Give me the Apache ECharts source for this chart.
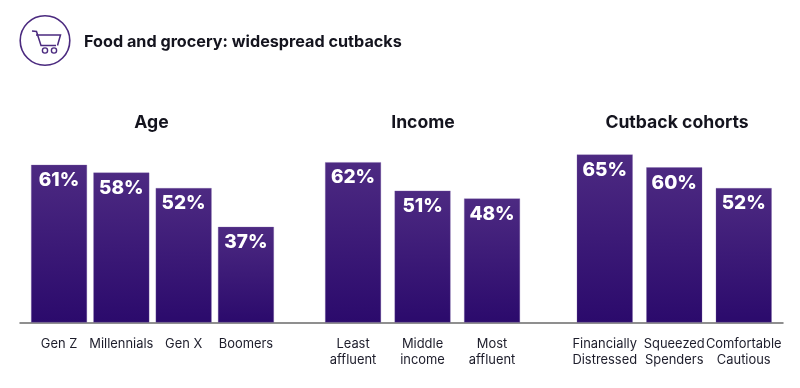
<!DOCTYPE html>
<html><head><meta charset="utf-8">
<style>html,body{margin:0;padding:0;background:#fff}#c{width:800px;height:388px}</style>
<script src="https://cdn.jsdelivr.net/npm/echarts@6/dist/echarts.min.js"></script>
</head><body><div id="c"></div>
<script>
const ageCategories = ['Gen Z', 'Millennials', 'Gen X', 'Boomers'];
const ageValues = [61, 58, 52, 37];
const incomeCategories = ['Least\naffluent', 'Middle\nincome', 'Most\naffluent'];
const incomeValues = [62, 51, 48];
const cohortCategories = ['Financially\nDistressed', 'Squeezed\nSpenders', 'Comfortable\nCautious'];
const cohortValues = [65, 60, 52];
const chartTitle = 'Food and grocery: widespread cutbacks';
const groupTitles = ['Age', 'Income', 'Cutback cohorts'];

const FONT = 'Inter';
const yMax = 70;
const gridTop = 141.5, gridH = 181;
const groups = [
  {c: ageCategories, v: ageValues, left: 27.9, width: 249.2},
  {c: incomeCategories, v: incomeValues, left: 318.3, width: 208.5},
  {c: cohortCategories, v: cohortValues, left: 570, width: 208.5}
];
const grids = [], xAxes = [], yAxes = [], series = [];
groups.forEach((g, i) => {
  grids.push({left: g.left, width: g.width, top: gridTop, height: gridH});
  xAxes.push({type: 'category', gridIndex: i, data: g.c,
    axisLine: {show: false}, axisTick: {show: false},
    axisLabel: {interval: 0, color: '#1d1d2b', fontFamily: FONT, fontSize: 12.9, lineHeight: 16.5, margin: 13, hideOverlap: false}});
  yAxes.push({type: 'value', gridIndex: i, min: 0, max: yMax, show: false});
  series.push({type: 'bar', xAxisIndex: i, yAxisIndex: i, data: g.v, barWidth: 56, silent: true,
    itemStyle: {
      color: {type: 'linear', x: 0, y: 0, x2: 0, y2: 1, colorStops: [
        {offset: 0, color: '#4d2a82'}, {offset: 1, color: '#2b0a6c'}]},
      borderColor: 'rgba(120,95,165,0.6)', borderWidth: 0.5
    },
    label: {show: true, position: 'insideTop', distance: 6, formatter: '{c}%', color: '#fff',
      fontFamily: FONT, fontWeight: 800, fontSize: 19}
  });
});
// full-width baseline
grids.push({left: 20, width: 763, top: gridTop, height: gridH});
xAxes.push({type: 'category', gridIndex: 3, data: [], axisTick: {show: false}, axisLabel: {show: false},
  axisLine: {show: true, lineStyle: {color: '#6b6b6b', width: 1.5}}});
yAxes.push({type: 'value', gridIndex: 3, min: 0, max: yMax, show: false});
series.push({type: 'bar', xAxisIndex: 3, yAxisIndex: 3, data: []});

const titleCenters = [146.5, 418, 672];
const stroke = '#4b2a7f';
const chart = echarts.init(document.getElementById('c'), null, {renderer: 'canvas'});
chart.setOption({
  animation: false,
  backgroundColor: '#fff',
  title: [
    {text: chartTitle, left: 79, top: 29, textStyle: {fontFamily: FONT, fontWeight: 700, fontSize: 16.2, color: '#14141e'}}
  ].concat(groupTitles.map((t, i) => ({text: t, left: titleCenters[i], textAlign: 'center', top: 109,
    textStyle: {fontFamily: FONT, fontWeight: 700, fontSize: 17.6, color: '#14141e'}}))),
  grid: grids, xAxis: xAxes, yAxis: yAxes, series: series,
  graphic: [
    {type: 'circle', shape: {cx: 45, cy: 40.5, r: 24.8}, style: {fill: 'none', stroke, lineWidth: 1.6}},
    {type: 'polyline', shape: {points: [[32, 31], [36.5, 31.5], [41, 45.5], [56, 45.5]]}, style: {fill: 'none', stroke, lineWidth: 1.5}},
    {type: 'polyline', shape: {points: [[36, 35], [60.5, 35], [57.5, 45.5]]}, style: {fill: 'none', stroke, lineWidth: 1.5}},
    {type: 'circle', shape: {cx: 45, cy: 50.5, r: 2.6}, style: {fill: 'none', stroke, lineWidth: 1.4}},
    {type: 'circle', shape: {cx: 54, cy: 50.5, r: 2.6}, style: {fill: 'none', stroke, lineWidth: 1.4}}
  ]
});
</script></body></html>
